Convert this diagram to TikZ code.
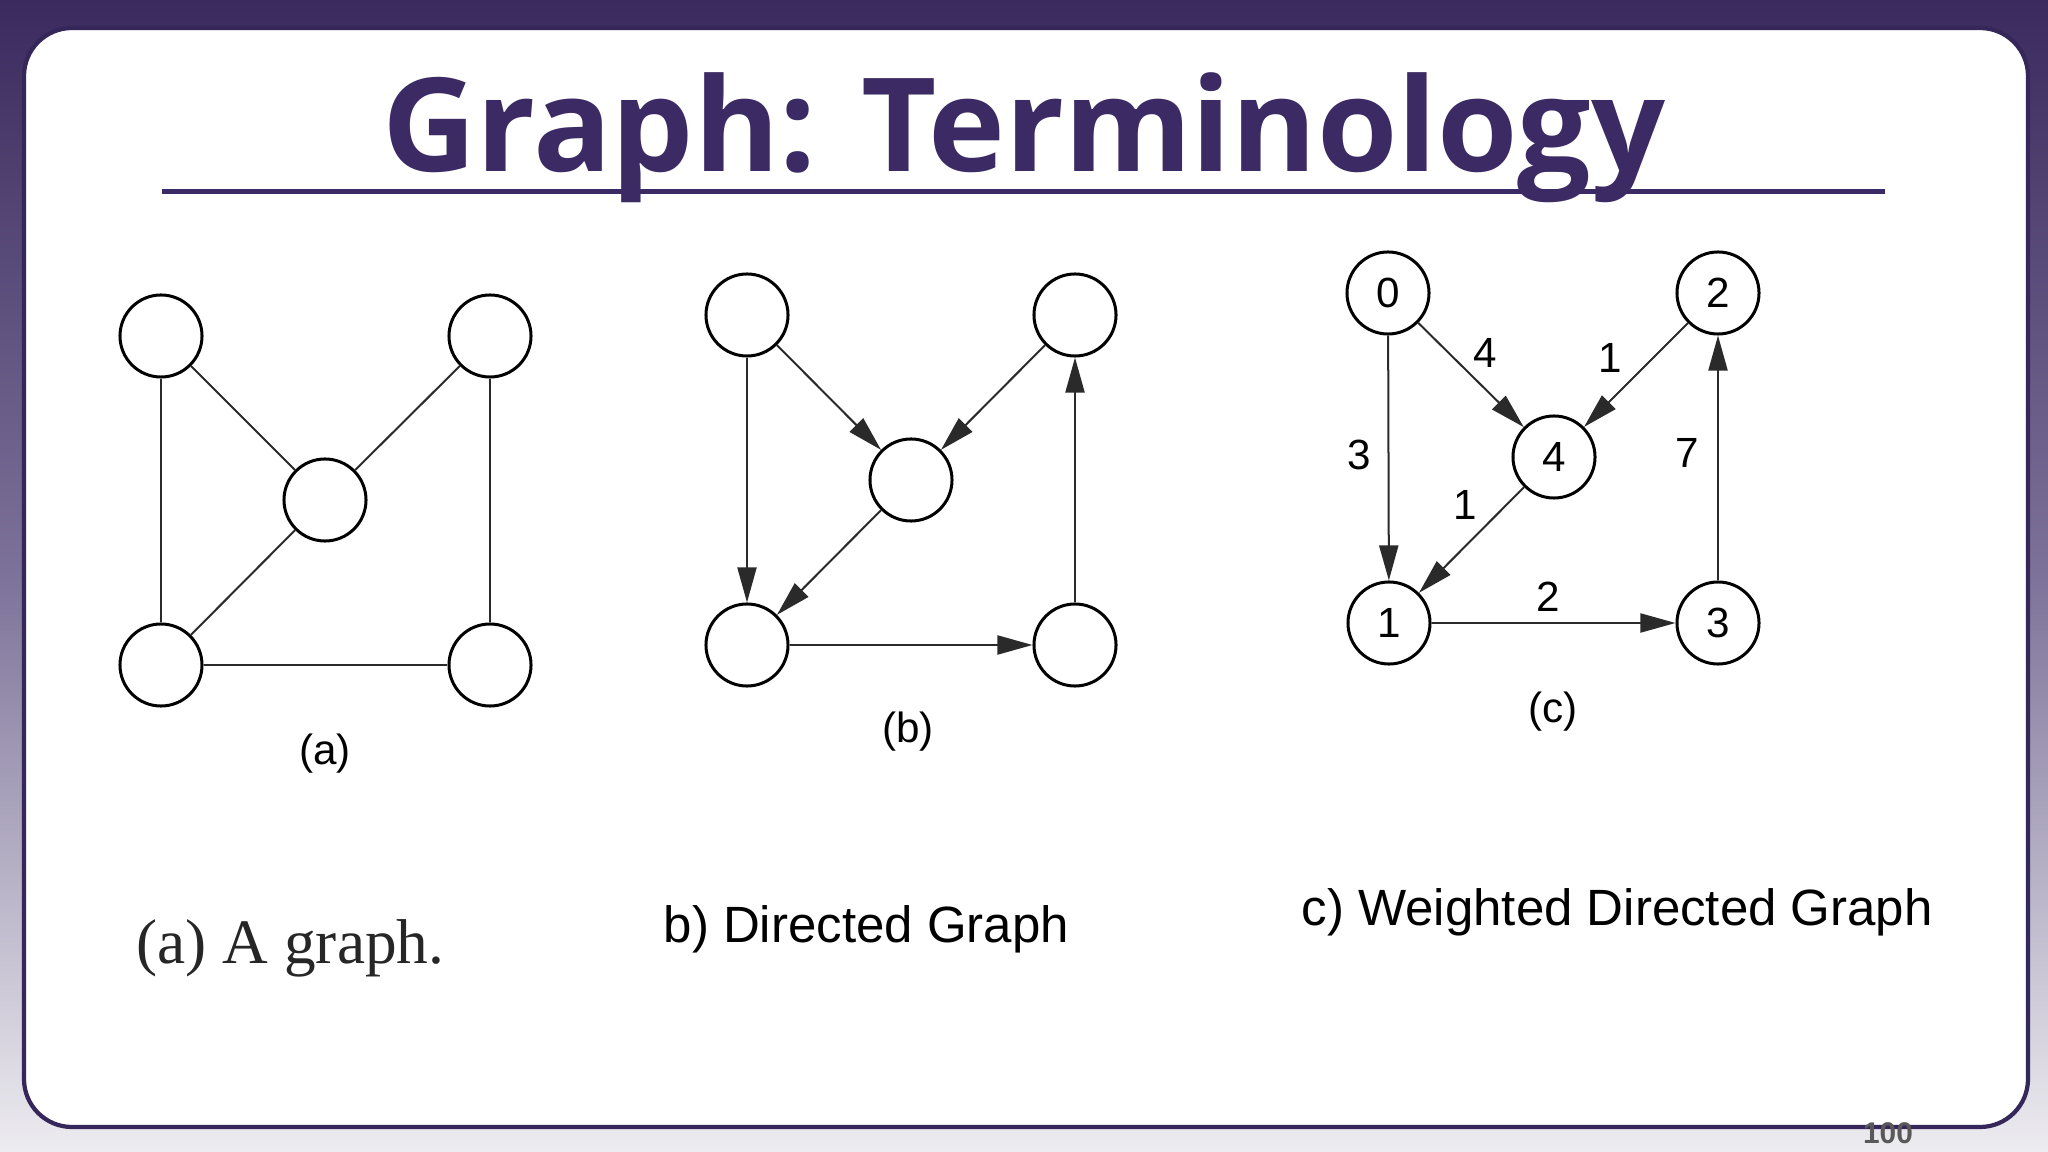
\documentclass[tikz,border=0pt]{standalone}
\usepackage{fontspec}
\setmainfont{Liberation Sans}
\newfontfamily\titlefont{Open Sans}
\newfontfamily\capserif{Liberation Serif}
\usetikzlibrary{arrows.meta}
\definecolor{bgtop}{HTML}{3B2A5E}
\definecolor{bgmid}{HTML}{7D7299}
\definecolor{bgbot}{HTML}{EDECF0}
\definecolor{titlec}{HTML}{3B2A63}
\definecolor{panelline}{HTML}{35275A}
\definecolor{edgec}{HTML}{2A2A2A}
\begin{document}
\begin{tikzpicture}[x=0.01cm,y=-0.01cm,
  vtx/.style={circle, draw=black, line width=0.3mm, minimum size=8.2mm, inner sep=0pt, fill=white,
              font=\fontsize{12}{14}\selectfont},
  lnk/.style={draw=edgec, line width=0.2mm},
  arr/.style={lnk, -{Triangle[length=3.5mm,width=1.9mm]}},
  wlab/.style={font=\fontsize{12}{14}\selectfont, inner sep=0pt},
  sublab/.style={font=\fontsize{12}{14}\selectfont, inner sep=0pt},
  capsans/.style={font=\fontsize{14.5}{17}\selectfont, anchor=base west, inner sep=0pt}]
\useasboundingbox (0,0) rectangle (2048,1152);
\shade[top color=bgtop, bottom color=bgbot, middle color=bgmid] (0,0) rectangle (2048,1152);
\draw[line width=1.2pt, draw=panelline, fill=white, rounded corners=4.8mm] (24,28) rectangle (2028,1127);

% title
\node[font=\titlefont\bfseries\fontsize{37}{42}\selectfont, text=titlec, anchor=base, inner sep=0pt] (title) at (1024,172) {Graph: Terminology};
\coordinate (ulA) at (162,192);
\coordinate (ulB) at (1885,192);
\draw[line width=0.5mm, titlec] (ulA) -- (ulB);

% graph (a)
\node[vtx] (a1) at (161,336) {};
\node[vtx] (a2) at (490,336) {};
\node[vtx] (a3) at (325,500) {};
\node[vtx] (a4) at (161,665) {};
\node[vtx] (a5) at (490,665) {};
\draw[lnk] (a1) -- (a3);
\draw[lnk] (a2) -- (a3);
\draw[lnk] (a3) -- (a4);
\draw[lnk] (a1) -- (a4);
\draw[lnk] (a2) -- (a5);
\draw[lnk] (a4) -- (a5);
\node[sublab] (la) at (325,754) {(a)};

% graph (b)
\node[vtx] (b1) at (747,315) {};
\node[vtx] (b2) at (1075,315) {};
\node[vtx] (b3) at (911,480) {};
\node[vtx] (b4) at (747,645) {};
\node[vtx] (b5) at (1075,645) {};
\draw[arr] (b1) -- (b4);
\draw[arr] (b1) -- (b3);
\draw[arr] (b2) -- (b3);
\draw[arr] (b3) -- (b4);
\draw[arr] (b4) -- (b5);
\draw[arr] (b5) -- (b2);
\node[sublab] (lb) at (908,732) {(b)};

% graph (c)
\node[vtx] (c0) at (1388,293) {0};
\node[vtx] (c2) at (1718,293) {2};
\node[vtx] (c4) at (1554,457) {4};
\node[vtx] (c1) at (1389,623) {1};
\node[vtx] (c3) at (1718,623) {3};
\draw[arr] (c0) -- (c1);
\draw[arr] (c0) -- (c4);
\draw[arr] (c2) -- (c4);
\draw[arr] (c4) -- (c1);
\draw[arr] (c1) -- (c3);
\draw[arr] (c3) -- (c2);
\node[wlab] (w04) at (1485,353) {4};
\node[wlab] (w24) at (1610,358) {1};
\node[wlab] (w01) at (1359,455) {3};
\node[wlab] (w32) at (1687,453) {7};
\node[wlab] (w41) at (1465,505) {1};
\node[wlab] (w13) at (1548,597) {2};
\node[sublab] (lc) at (1553,712) {(c)};

% captions
\node[font=\capserif\fontsize{18}{21}\selectfont, anchor=base west, inner sep=0pt, text=black!85] (capa) at (136,963) {(a) A graph.};
\node[capsans] (capb) at (663,942) {b) Directed Graph};
\node[capsans] (capc) at (1301,925) {c) Weighted Directed Graph};

% page number
\node[font=\bfseries\fontsize{8.5}{10}\selectfont, text=black!65, inner sep=0pt] (pnum) at (1888,1133) {100};
\end{tikzpicture}
\end{document}
